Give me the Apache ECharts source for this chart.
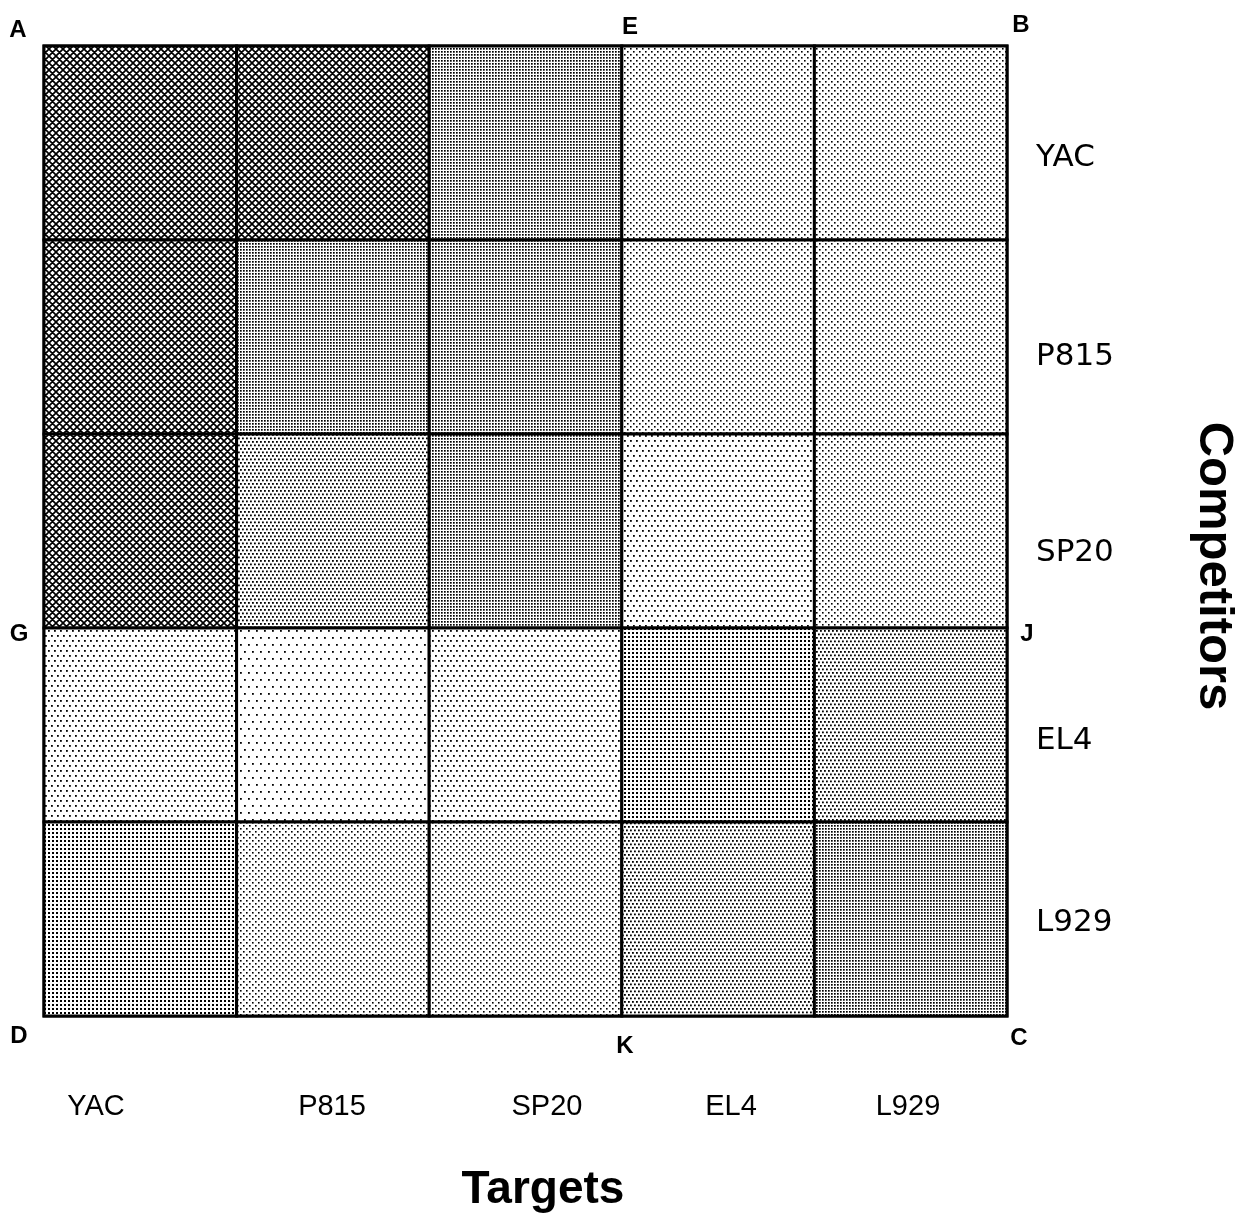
<!DOCTYPE html>
<html>
<head>
<meta charset="utf-8">
<script src="https://cdn.jsdelivr.net/npm/echarts@6/dist/echarts.min.js"></script>
<style>
  html, body { margin: 0; padding: 0; background: #fff; }
  #chart { width: 1241px; height: 1221px; }
</style>
</head>
<body>
<div id="chart"></div>
<script>
// categories
const targets = ['YAC', 'P815', 'SP20', 'EL4', 'L929']
const competitors = ['YAC', 'P815', 'SP20', 'EL4', 'L929']
// shading level read off each cell (0 = lightest stipple, 6 = crosshatch)
// rows = competitors (top to bottom), cols = targets
const shading = [
  [6, 6, 5, 2, 2],
  [6, 5, 5, 2, 2],
  [6, 3, 5, 1, 2],
  [1, 0, 1, 4, 3],
  [4, 2, 2, 3, 5],
]
const cornerLetters = ['A', 'E', 'B', 'G', 'F', 'J', 'D', 'K', 'C']

// stipple tiles, one per shading level
function dotTile(w, h, pts, s) {
  const c = document.createElement('canvas')
  c.width = w
  c.height = h
  const ctx = c.getContext('2d')
  ctx.fillStyle = '#fff'
  ctx.fillRect(0, 0, w, h)
  ctx.fillStyle = '#000'
  for (const [x, y] of pts) ctx.fillRect(x, y, s, s)
  return { image: c, repeat: 'repeat' }
}
function hatchTile(n, lw) {
  const c = document.createElement('canvas')
  c.width = n
  c.height = n
  const ctx = c.getContext('2d')
  ctx.fillStyle = '#fff'
  ctx.fillRect(0, 0, n, n)
  ctx.strokeStyle = '#000'
  ctx.lineWidth = lw
  ctx.beginPath()
  for (const k of [-n, 0, n]) {
    ctx.moveTo(k, 0); ctx.lineTo(k + n, n)
    ctx.moveTo(k + n, 0); ctx.lineTo(k, n)
  }
  ctx.stroke()
  return { image: c, repeat: 'repeat' }
}
const patterns = [
  dotTile(8, 14, [[0, 0], [4, 7]], 1.8),
  dotTile(6, 10, [[0, 0], [3, 5]], 1.8),
  dotTile(6, 6, [[0, 0], [3, 3]], 1.6),
  dotTile(4, 7, [[0, 0], [2, 3.5]], 1.8),
  dotTile(4, 4, [[0, 0]], 2),
  dotTile(3, 3, [[0, 0]], 1.7),
  hatchTile(7, 1.7),
]

const cells = []
shading.forEach((row, r) => row.forEach((v, c) => cells.push([c, r, v])))

const chart = echarts.init(document.getElementById('chart'))

const graphics = []
// corner letters
const cornerPos = [[18, 30], [630, 27], [1021, 25], [19, 634], [643, 609], [1027, 634], [19, 1036], [625, 1046], [1019, 1038]]
cornerLetters.forEach((t, i) => graphics.push({
  type: 'text', x: cornerPos[i][0], y: cornerPos[i][1],
  style: { text: t, font: 'bold 24px "Liberation Sans"', fill: '#000', textAlign: 'center', textVerticalAlign: 'middle' },
}))
// target labels under the grid
const targetX = [96, 332, 547, 731, 908]
targets.forEach((t, i) => graphics.push({
  type: 'text', x: targetX[i], y: 1107,
  style: { text: t, font: '29px "Liberation Sans"', fill: '#000', textAlign: 'center', textVerticalAlign: 'middle' },
}))
// competitor labels to the right
const compY = [158, 357, 553, 741, 923]
competitors.forEach((t, i) => graphics.push({
  type: 'text', x: 1036, y: compY[i],
  style: { text: t, font: '31px "DejaVu Sans"', fill: '#000', textAlign: 'left', textVerticalAlign: 'middle' },
}))
graphics.push({
  type: 'text', x: 543, y: 1190,
  style: { text: 'Targets', font: 'bold 46px "Liberation Sans"', fill: '#000', textAlign: 'center', textVerticalAlign: 'middle' },
})
graphics.push({
  type: 'text', x: 1214, y: 566, rotation: -Math.PI / 2,
  style: { text: 'Competitors', font: 'bold 49px "Liberation Sans"', fill: '#000', textAlign: 'center', textVerticalAlign: 'middle' },
})

chart.setOption({
  backgroundColor: '#fff',
  animation: false,
  grid: { left: 44, top: 46, width: 963, height: 970, show: true, borderColor: '#000', borderWidth: 3 },
  xAxis: { type: 'category', data: targets, show: false },
  yAxis: { type: 'category', data: competitors, inverse: true, show: false },
  graphic: graphics,
  series: [{
    type: 'custom',
    data: cells,
    renderItem: (params, api) => {
      const p = api.coord([api.value(0), api.value(1)])
      const s = api.size([1, 1])
      return {
        type: 'rect',
        shape: { x: p[0] - s[0] / 2, y: p[1] - s[1] / 2, width: s[0], height: s[1] },
        style: { fill: patterns[api.value(2)], stroke: '#000', lineWidth: 3 },
      }
    },
  }],
})
</script>
</body>
</html>
